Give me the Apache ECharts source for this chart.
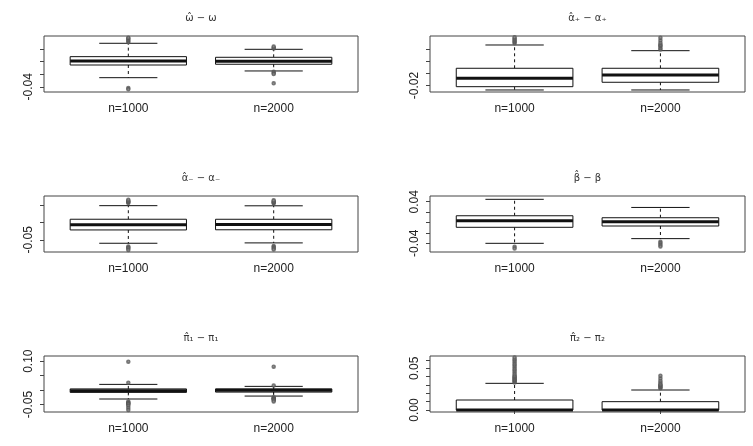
<!DOCTYPE html>
<html>
<head>
<meta charset="utf-8">
<script src="https://cdn.jsdelivr.net/npm/echarts@6/dist/echarts.min.js"></script>
<style>
  html, body { margin: 0; padding: 0; background: #fff; }
  #chart { width: 753px; height: 446px; }
</style>
</head>
<body>
<div id="chart"></div>
<script>
  var groups = ['n=1000', 'n=2000']
  var titles = ['ω̂ − ω', 'α̂₊ − α₊', 'α̂₋ − α₋', 'β̂ − β', 'π̂₁ − π₁', 'π̂₂ − π₂']

  // [lower whisker, Q1, median, Q3, upper whisker] for n=1000 and n=2000
  var omegaStats = [[-0.0255, -0.0053, 0.001, 0.008, 0.0293], [-0.0148, -0.0041, 0.0006, 0.007, 0.0197]]
  var omegaOut = [[0.031, 0.033, 0.035, 0.037, 0.038, -0.042, -0.044], [0.021, 0.022, 0.024, -0.016, -0.018, -0.0195, -0.0344]]
  var alphaPStats = [[-0.0273, -0.0219, -0.0082, 0.0082, 0.0463], [-0.0273, -0.0147, -0.0028, 0.0082, 0.037]]
  var alphaPOut = [[0.049, 0.051, 0.053, 0.055, 0.057, 0.059], [0.039, 0.041, 0.044, 0.0455, 0.047, 0.050, 0.054, 0.058]]
  var alphaMStats = [[-0.060, -0.022, -0.0069, 0.0086, 0.0474], [-0.059, -0.0215, -0.0065, 0.0085, 0.047]]
  var alphaMOut = [[0.055, 0.057, 0.059, 0.061, 0.064, -0.069, -0.072, -0.075, -0.079], [0.054, 0.056, 0.058, 0.060, 0.063, -0.068, -0.071, -0.074, -0.078]]
  var betaStats = [[-0.040, -0.0092, 0.0035, 0.013, 0.0446], [-0.031, -0.0067, 0.0015, 0.0092, 0.029]]
  var betaOut = [[-0.0465, -0.050], [-0.037, -0.040, -0.043, -0.046]]
  var pi1Stats = [[-0.031, -0.008, -0.002, 0.004, 0.0197], [-0.0208, -0.007, -0.001, 0.004, 0.0128]]
  var pi1Out = [[0.098, 0.025, -0.040, -0.043, -0.046, -0.047, -0.050, -0.055, -0.062, -0.069], [0.081, 0.016, -0.025, -0.028, -0.029, -0.030, -0.032, -0.035, -0.040]]
  var pi2Stats = [[0, 0, 0, 0.012, 0.032], [0, 0, 0, 0.010, 0.024]]
  var pi2Out = [[0.033, 0.034, 0.035, 0.036, 0.037, 0.038, 0.039, 0.040, 0.041, 0.043, 0.045, 0.047, 0.049, 0.051, 0.053, 0.055, 0.057, 0.059, 0.061, 0.063],
                [0.026, 0.027, 0.028, 0.029, 0.030, 0.031, 0.033, 0.035, 0.038, 0.041]]

  // y limits, tick values and the tick labels that R actually printed
  var yLimits = [[-0.0483, 0.0409], [-0.0306, 0.061], [-0.085, 0.075], [-0.0567, 0.051], [-0.076, 0.118], [-0.0024, 0.0648]]
  var yTicks = [[-0.04, -0.02, 0, 0.02], [-0.02, 0, 0.02, 0.04], [-0.05, 0, 0.05], [-0.04, -0.02, 0, 0.02, 0.04],
                [-0.05, 0, 0.05, 0.10], [0, 0.01, 0.02, 0.03, 0.04, 0.05, 0.06]]
  var yLabels = [[-0.04], [-0.02], [-0.05], [-0.04, 0.04], [-0.05, 0.10], [0, 0.05]]

  var statsList = [omegaStats, alphaPStats, alphaMStats, betaStats, pi1Stats, pi2Stats]
  var outList = [omegaOut, alphaPOut, alphaMOut, betaOut, pi1Out, pi2Out]

  var colLeft = [44, 430]
  var colWidth = [314, 315]
  var rowTop = [36, 196, 356]
  var rowHeight = 56
  var ink = '#111'

  function renderBox(params, api) {
    var x = api.value(0)
    var cx = api.coord([x, 0])[0]
    var yLo = api.coord([x, api.value(1)])[1]
    var yQ1 = api.coord([x, api.value(2)])[1]
    var yMed = api.coord([x, api.value(3)])[1]
    var yQ3 = api.coord([x, api.value(4)])[1]
    var yHi = api.coord([x, api.value(5)])[1]
    var bl = api.coord([x - 0.4, 0])[0], br = api.coord([x + 0.4, 0])[0]
    var sl = api.coord([x - 0.2, 0])[0], sr = api.coord([x + 0.2, 0])[0]
    var dash = {stroke: ink, lineWidth: 1, lineDash: [3, 3]}
    var solid = {stroke: ink, lineWidth: 1}
    return {
      type: 'group',
      children: [
        {type: 'line', shape: {x1: cx, y1: yQ1, x2: cx, y2: yLo}, style: dash},
        {type: 'line', shape: {x1: cx, y1: yQ3, x2: cx, y2: yHi}, style: dash},
        {type: 'line', shape: {x1: sl, y1: yLo, x2: sr, y2: yLo}, style: solid},
        {type: 'line', shape: {x1: sl, y1: yHi, x2: sr, y2: yHi}, style: solid},
        {type: 'rect', shape: {x: bl, y: yQ3, width: br - bl, height: yQ1 - yQ3}, style: {fill: '#fff', stroke: ink, lineWidth: 1}},
        {type: 'line', shape: {x1: bl, y1: yMed, x2: br, y2: yMed}, style: {stroke: ink, lineWidth: 3}}
      ]
    }
  }

  var grid = [], xAxis = [], yAxis = [], series = [], graphic = []
  for (var i = 0; i < 6; i++) {
    var col = i % 2, row = Math.floor(i / 2)
    grid.push({
      left: colLeft[col], top: rowTop[row], width: colWidth[col], height: rowHeight,
      show: true, borderColor: '#444', borderWidth: 1
    })
    xAxis.push({
      type: 'value', gridIndex: i, min: 0.42, max: 2.58,
      axisLine: {show: false}, splitLine: {show: false},
      axisTick: {customValues: [1, 2], length: 4, lineStyle: {color: '#444'}},
      axisLabel: {
        customValues: [1, 2], margin: 11, fontSize: 12, color: '#222', fontFamily: 'Liberation Sans, Arial',
        formatter: function (v) { return groups[Math.round(v) - 1] }
      }
    })
    yAxis.push({
      type: 'value', gridIndex: i, min: yLimits[i][0], max: yLimits[i][1],
      axisLine: {show: false}, splitLine: {show: false},
      axisTick: {customValues: yTicks[i], length: 4, lineStyle: {color: '#444'}},
      axisLabel: {
        customValues: yLabels[i], rotate: 90, margin: 9, fontSize: 12, color: '#222', fontFamily: 'Liberation Sans, Arial',
        formatter: function (v) { return v.toFixed(2) }
      }
    })
    var boxData = statsList[i].map(function (s, g) { return [g + 1].concat(s) })
    series.push({
      type: 'custom', xAxisIndex: i, yAxisIndex: i,
      renderItem: renderBox,
      encode: {x: 0, y: [1, 2, 3, 4, 5]},
      data: boxData
    })
    var pts = []
    outList[i].forEach(function (vals, g) {
      vals.forEach(function (v) { pts.push([g + 1, v]) })
    })
    series.push({
      type: 'scatter', xAxisIndex: i, yAxisIndex: i,
      symbol: 'emptyCircle', symbolSize: 2.5,
      itemStyle: {color: '#555', borderWidth: 0.6},
      data: pts
    })
    graphic.push({
      type: 'text',
      x: colLeft[col] + colWidth[col] / 2, y: rowTop[row] - 17.5,
      style: {
        text: titles[i], fontSize: 10, fontFamily: 'DejaVu Sans', fill: '#333',
        textAlign: 'center', textVerticalAlign: 'middle'
      }
    })
  }

  var myChart = echarts.init(document.getElementById('chart'))
  myChart.setOption({
    animation: false,
    grid: grid,
    xAxis: xAxis,
    yAxis: yAxis,
    series: series,
    graphic: graphic
  })
</script>
</body>
</html>
